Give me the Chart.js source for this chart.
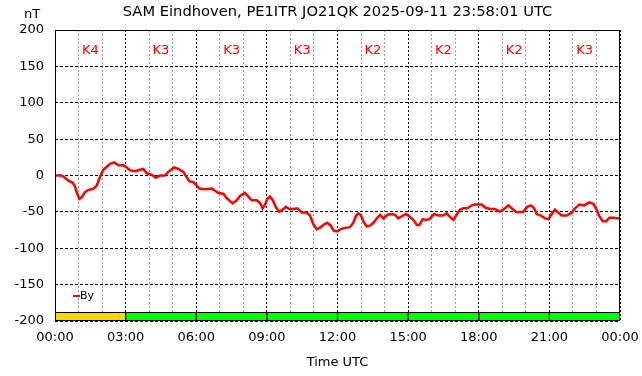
<!DOCTYPE html>
<html>
<head>
  <title>SAM Eindhoven By</title>
  <script src="https://cdn.jsdelivr.net/npm/chart.js"></script>
  <style>
    body { margin: 0; background: white; }
    #wrap { width: 642px; height: 376px; }
  </style>
</head>
<body>
  <div id="wrap"><canvas id="chart" width="642" height="376"></canvas></div>

  <script>
    const titleText = "SAM Eindhoven, PE1ITR JO21QK 2025-09-11 23:58:01 UTC";
    const unitLabel = "nT";
    const seriesName = "By";

    // time in hours UTC, By in nT
    const byTimes = [
      0.04, 0.28, 0.42, 0.57, 0.75, 0.85, 0.92, 1.03, 1.13, 1.27, 1.41, 1.63, 1.77, 1.91,
      2.05, 2.20, 2.34, 2.52, 2.69, 2.90, 3.05, 3.19, 3.40, 3.61, 3.75, 3.90, 4.11, 4.29,
      4.46, 4.67, 4.81, 5.06, 5.24, 5.45, 5.59, 5.71, 5.88, 6.02, 6.13, 6.37, 6.66, 6.80,
      6.94, 7.15, 7.29, 7.43, 7.55, 7.72, 7.86, 8.07, 8.21, 8.35, 8.57, 8.71, 8.82, 8.92,
      9.02, 9.13, 9.25, 9.39, 9.53, 9.67, 9.81, 9.95, 10.12, 10.29, 10.48, 10.69, 10.83,
      10.97, 11.12, 11.29, 11.43, 11.57, 11.71, 11.85, 11.99, 12.11, 12.32, 12.53, 12.67,
      12.79, 12.88, 12.98, 13.10, 13.24, 13.38, 13.52, 13.67, 13.81, 13.95, 14.12, 14.30,
      14.44, 14.58, 14.73, 14.91, 15.08, 15.22, 15.37, 15.48, 15.62, 15.76, 15.90, 16.10,
      16.28, 16.47, 16.64, 16.78, 16.92, 17.06, 17.20, 17.35, 17.52, 17.70, 17.84, 18.13,
      18.27, 18.48, 18.69, 18.90, 19.12, 19.26, 19.40, 19.58, 19.89, 20.06, 20.22, 20.35,
      20.46, 20.63, 20.82, 20.96, 21.10, 21.24, 21.38, 21.52, 21.74, 21.95, 22.09, 22.27,
      22.47, 22.70, 22.87, 22.98, 23.12, 23.27, 23.41, 23.55, 23.72, 23.97
    ];
    const byValues = [
      0, 0, -3, -7, -10, -15, -23, -32, -30, -23, -20, -18, -14, -2,
      8, 12, 16, 18, 14, 14, 11, 7, 6, 8, 9, 3, 1, -3,
      0, 0, 5, 11, 9, 5, -2, -8, -9, -14, -18, -19, -18, -21,
      -24, -25, -31, -35, -38, -34, -28, -24, -29, -34, -34, -38, -45, -40,
      -32, -29, -34, -44, -50, -47, -43, -46, -46, -45, -51, -51, -55,
      -67, -74, -71, -67, -65, -69, -76, -77, -74, -72, -71, -65,
      -55, -52, -54, -63, -70, -69, -65, -59, -54, -59, -54, -53,
      -54, -59, -56, -53, -57, -61, -68, -68, -60, -61, -60, -53,
      -55, -55, -52, -57, -61, -54, -47, -45, -45, -41, -40, -40,
      -44, -46, -46, -50, -45, -41, -45, -50, -50, -43, -41, -45,
      -53, -55, -59, -60, -53, -47, -51, -55, -55, -51, -45, -40,
      -41, -37, -39, -45, -56, -63, -63, -58, -58, -59
    ];

    // 3-hour K index blocks (centre time in hours)
    const kTimes = [1.5, 4.5, 7.5, 10.5, 13.5, 16.5, 19.5, 22.5];
    const kValues = [4, 3, 3, 3, 2, 2, 2, 3];
    const kBarRange = [-200, -188];
    const kLabelLevel = 172;

    const xTickLabels = ["00:00", "03:00", "06:00", "09:00", "12:00", "15:00", "18:00", "21:00", "00:00"];
    const yTicks = [-200, -150, -100, -50, 0, 50, 100, 150, 200];

    const FONT = "DejaVu Sans";

    function kColor(k) {
      return k >= 4 ? "#ffd700" : "#00ff00";
    }

    const decorPlugin = {
      id: "decor",
      afterDatasetsDraw(chart) {
        const { ctx, chartArea: a, scales } = chart;
        ctx.save();
        // K labels
        ctx.fillStyle = "#ff0000";
        ctx.font = "13px '" + FONT + "'";
        ctx.textAlign = "center";
        ctx.textBaseline = "middle";
        kTimes.forEach((t, i) => {
          ctx.fillText("K" + kValues[i], scales.x.getPixelForValue(t), scales.y.getPixelForValue(kLabelLevel));
        });
        // legend
        const ds = chart.data.datasets[0];
        ctx.strokeStyle = ds.borderColor;
        ctx.lineWidth = 2;
        ctx.beginPath();
        ctx.moveTo(a.left + 18, a.bottom - 25);
        ctx.lineTo(a.left + 25, a.bottom - 25);
        ctx.stroke();
        ctx.fillStyle = "#000";
        ctx.font = "11px '" + FONT + "'";
        ctx.textAlign = "left";
        ctx.fillText(ds.label, a.left + 25, a.bottom - 25);
        // frame
        ctx.strokeStyle = "#000";
        ctx.lineWidth = 1;
        ctx.strokeRect(Math.round(a.left) + 0.5, Math.round(a.top) + 0.5,
          Math.round(a.right - a.left) - 1, Math.round(a.bottom - a.top) - 1);
        // title and unit
        ctx.fillStyle = "#000";
        ctx.font = "14.7px '" + FONT + "'";
        ctx.textAlign = "center";
        ctx.fillText(titleText, (a.left + a.right) / 2, 12);
        ctx.font = "13px '" + FONT + "'";
        ctx.fillText(unitLabel, 32, 15);
        ctx.restore();
      }
    };

    new Chart(document.getElementById("chart").getContext("2d"), {
      type: "line",
      data: {
        datasets: [
          {
            label: seriesName,
            data: byTimes.map((t, i) => ({ x: t, y: byValues[i] })),
            borderColor: "#ff0000",
            borderWidth: 2.5,
            pointRadius: 0,
            tension: 0,
            fill: false
          },
          {
            type: "bar",
            label: "K",
            data: kTimes.map(t => ({ x: t, y: kBarRange })),
            backgroundColor: kValues.map(kColor),
            borderColor: "#000",
            borderWidth: 1,
            borderSkipped: false,
            barThickness: "flex",
            barPercentage: 1,
            categoryPercentage: 1
          }
        ]
      },
      options: {
        responsive: false,
        animation: false,
        layout: { padding: { top: 30, right: 22, left: 0, bottom: 0 } },
        plugins: {
          legend: { display: false },
          tooltip: { enabled: false }
        },
        scales: {
          x: {
            type: "linear",
            min: 0,
            max: 24,
            offset: false,
            afterFit: s => { s.height = 55; s.paddingLeft = 0; s.paddingRight = 0; },
            afterBuildTicks: s => { s.ticks = Array.from({ length: 25 }, (_, i) => ({ value: i })); },
            ticks: {
              autoSkip: false,
              maxRotation: 0,
              padding: 9,
              color: "#000",
              font: { family: FONT, size: 13 },
              callback: v => (v % 3 === 0 ? xTickLabels[v / 3] : "")
            },
            grid: {
              offset: false,
              drawTicks: false,
              lineWidth: 1,
              color: c => (c.tick && c.tick.value % 3 === 0 ? "#000" : "#a0a0a0")
            },
            border: { display: false, dash: [2, 2] },
            title: {
              display: true,
              text: "Time UTC",
              color: "#000",
              font: { family: FONT, size: 13 },
              padding: { top: 0, bottom: 6 }
            }
          },
          y: {
            min: -200,
            max: 200,
            afterFit: s => { s.width = 55; s.paddingTop = 0; s.paddingBottom = 0; },
            afterBuildTicks: s => { s.ticks = yTicks.map(v => ({ value: v })); },
            ticks: {
              padding: 11,
              color: "#000",
              font: { family: FONT, size: 13 }
            },
            grid: { drawTicks: false, color: "#000", lineWidth: 1 },
            border: { display: false, dash: [3, 2] }
          }
        }
      },
      plugins: [decorPlugin]
    });
  </script>
</body>
</html>
